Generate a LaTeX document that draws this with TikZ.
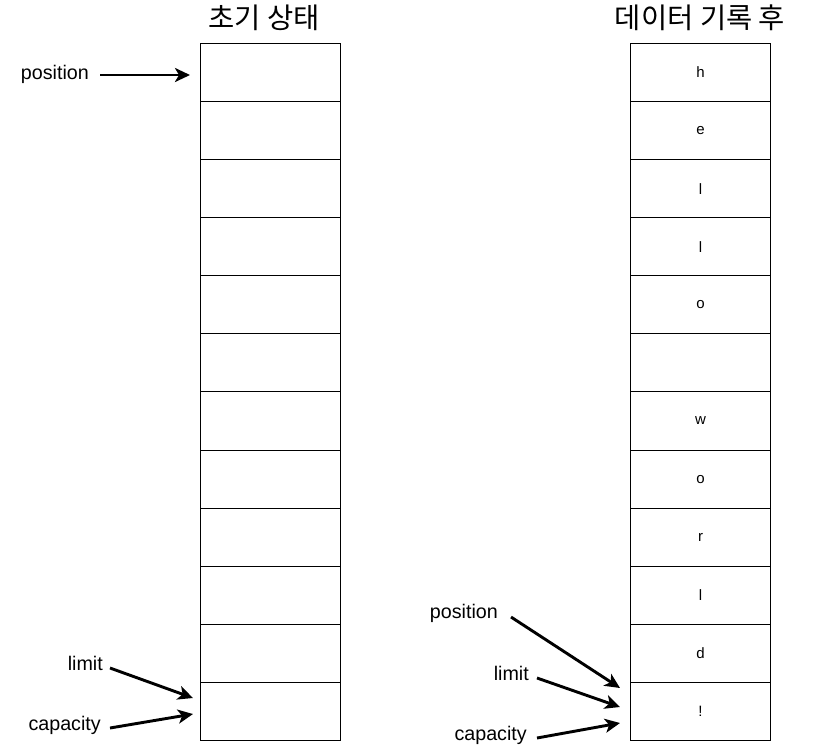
\documentclass[tikz,border=0pt]{standalone}
\usepackage{fontspec}
\setmainfont{Liberation Sans}
\newfontfamily\kofont{Noto Sans CJK KR}
\usetikzlibrary{arrows.meta}
\begin{document}
\begin{tikzpicture}[x=1pt,y=-1pt,
  cell/.style={draw=black,line width=1pt,minimum width=140pt,minimum height=58.08pt,inner sep=0pt,anchor=north west,font=\fontsize{15}{18}\selectfont},
  lbl/.style={font=\fontsize{19.7}{23}\selectfont,inner sep=0pt},
  ttl/.style={font=\kofont\fontsize{28.5}{33}\selectfont,inner sep=0pt},
  ptr/.style={line width=2.9pt,-{Stealth[length=15pt,width=14pt,inset=4pt]}}]
\useasboundingbox (0,0) rectangle (816,750);
% left column
\foreach \i in {0,...,11}{
  \node[cell] (L\i) at (200,{43+\i*58.08}) {};
}
% right column
\foreach \t [count=\i from 0] in {h,e,l,l,o,{},w,o,r,l,d,!}{
  \node[cell] (R\i) at (630,{43+\i*58.08}) {\t};
}
\node[ttl] (t1) at (264,18) {초기 상태};
\node[ttl] (t2) at (700,18) {데이터 기록 후};
% left labels
\node[lbl,anchor=east] (lp) at (89,74) {position};
\node[lbl,anchor=east] (ll) at (103,663) {limit};
\node[lbl,anchor=east] (lc) at (101,725) {capacity};
\coordinate (lpS) at (100,75); \coordinate (lpE) at (190,75);
\coordinate (llS) at (110,668); \coordinate (llE) at (193,698);
\coordinate (lcS) at (110,728); \coordinate (lcE) at (193,714);
\draw[ptr] (lpS) -- (lpE);
\draw[ptr] (llS) -- (llE);
\draw[ptr] (lcS) -- (lcE);
% right labels
\node[lbl,anchor=east] (rp) at (498,613) {position};
\node[lbl,anchor=east] (rl) at (529,673) {limit};
\node[lbl,anchor=east] (rc) at (527,735) {capacity};
\coordinate (rpS) at (511,617); \coordinate (rpE) at (620,688);
\coordinate (rlS) at (537,678); \coordinate (rlE) at (620,707);
\coordinate (rcS) at (537,738); \coordinate (rcE) at (620,723);
\draw[ptr] (rpS) -- (rpE);
\draw[ptr] (rlS) -- (rlE);
\draw[ptr] (rcS) -- (rcE);
\end{tikzpicture}
\end{document}
